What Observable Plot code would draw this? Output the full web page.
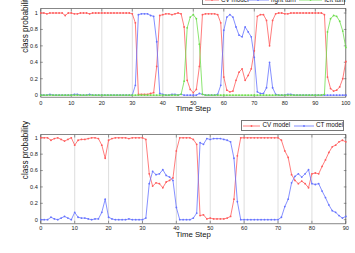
<!DOCTYPE html>
<html>
<head>
<meta charset="utf-8">
<script src="https://cdn.jsdelivr.net/npm/d3@7"></script>
<script src="https://cdn.jsdelivr.net/npm/@observablehq/plot@0.6"></script>
<style>
  html, body { margin: 0; padding: 0; background: white; }
  #wrap { position: relative; width: 355px; height: 253px; overflow: hidden; font-family: "Liberation Sans", Arial, sans-serif; }
  .chart { position: absolute; left: 0; overflow: visible; }
  .legend { position: absolute; background: white; border: 0.6px solid #777; box-sizing: border-box; }
  .lg-item { position: absolute; font-family: "Liberation Sans", Arial, sans-serif; font-size: 6.3px; color: #111; white-space: nowrap; line-height: 1; }
  .lg-swatch { position: absolute; }
</style>
</head>
<body>
<div id="wrap"></div>
<script>
// ---------- data: top chart ----------
const topSteps = d3.range(0, 101);
const topCV = [
  1.0,1.0,0.99,1.0,1.0,1.0,1.0,1.0,0.97,1.0,
  1.0,0.99,0.99,1.0,1.0,1.0,0.99,1.0,1.0,1.0,
  1.0,1.0,1.0,1.0,1.0,1.0,1.0,1.0,1.0,1.0,
  0.99,0.88,0.01,0.01,0.01,0.01,0.02,0.03,0.35,0.97,
  0.98,0.99,0.99,0.98,0.99,1.0,0.99,0.83,0.18,0.07,
  0.03,0.07,0.35,0.98,0.99,0.99,0.99,0.99,0.98,0.88,
  0.22,0.06,0.04,0.05,0.18,0.28,0.32,0.18,0.24,0.32,
  0.54,0.96,0.98,0.98,0.91,0.60,0.91,0.99,1.0,1.0,
  0.99,0.99,1.0,1.0,1.0,1.0,1.0,1.0,1.0,1.0,
  1.0,1.0,1.0,0.98,0.22,0.08,0.05,0.06,0.10,0.20,
  0.41
];
const topRight = [
  0,0,0,0.01,0,0,0,0,0,0,
  0,0.01,0.01,0,0,0,0.01,0,0,0,
  0,0,0,0,0,0,0,0,0,0,
  0,0.12,0.98,0.99,0.99,0.99,0.97,0.96,0.65,0.02,
  0.01,0,0,0.01,0.01,0,0.01,0,0,0,
  0,0,0.02,0.01,0,0,0,0,0.01,0.12,
  0.79,0.95,0.98,0.95,0.83,0.73,0.71,0.83,0.77,0.71,
  0.46,0.04,0.02,0.02,0.09,0.40,0.09,0.01,0,0,
  0,0.01,0.01,0,0,0,0,0,0,0,
  0,0,0,0,0,0,0,0,0,0,
  0
];
const topLeft = [
  0,0,0,0,0,0,0,0,0,0,
  0,0,0,0,0,0,0,0,0,0,
  0,0,0,0,0,0,0,0,0,0,
  0,0,0,0,0,0,0,0,0,0,
  0,0,0,0,0,0,0.01,0.17,0.82,0.95,
  0.98,0.93,0.62,0.01,0,0,0,0,0,0,
  0,0,0,0,0,0,0,0,0,0,
  0,0,0,0,0,0,0,0,0,0,
  0,0,0,0,0,0,0,0,0,0,
  0,0,0,0.01,0.77,0.93,0.97,0.96,0.90,0.78,
  0.58
];
const topSeries = ["CV model", "right turn", "left turn"];

// ---------- data: bottom chart ----------
const botSteps = d3.range(0, 91);
const botCV = [
  1.0,1.0,1.0,0.97,0.99,1.0,0.98,0.96,0.98,1.0,
  0.91,0.97,0.98,0.98,0.99,1.0,1.0,0.99,0.91,0.75,
  0.97,0.99,1.0,1.0,1.0,1.0,0.99,1.0,1.0,1.0,
  1.0,0.98,0.56,0.41,0.45,0.44,0.39,0.46,0.48,0.51,
  0.84,1.0,1.0,1.0,1.0,0.98,0.92,0.05,0.06,0.01,
  0.02,0.01,0.01,0.01,0.01,0.02,0.04,0.25,0.78,1.0,
  1.0,1.0,1.0,1.0,1.0,1.0,1.0,1.0,1.0,1.0,
  1.0,0.97,0.84,0.76,0.55,0.48,0.44,0.47,0.44,0.39,
  0.56,0.57,0.56,0.65,0.73,0.82,0.89,0.91,0.95,0.97,
  0.95
];
const botCT = [
  0,0,0,0.03,0.01,0,0.02,0.04,0.02,0,
  0.09,0.03,0.02,0.02,0.01,0,0.01,0.01,0.09,0.25,
  0.03,0.01,0,0,0,0,0.01,0,0,0,
  0,0.02,0.44,0.59,0.55,0.56,0.61,0.54,0.52,0.48,
  0.15,0,0,0,0,0.02,0.08,0.94,0.92,0.99,
  0.98,0.99,0.99,0.99,0.98,0.97,0.95,0.75,0.22,0,
  0,0,0,0,0,0,0,0,0,0,
  0,0.03,0.16,0.25,0.45,0.53,0.56,0.52,0.56,0.61,
  0.44,0.43,0.44,0.35,0.27,0.18,0.11,0.09,0.05,0.02,
  0.04
];
const botSeries = ["CV model", "CT model"];

// ---------- ticks ----------
const topXTicks = [0,10,20,30,40,50,60,70,80,90,100];
const botXTicks = [0,10,20,30,40,50,60,70,80,90];
const yTicks = [0,0.2,0.4,0.6,0.8,1];
const yTickLabels = ["0","0.2","0.4","0.6","0.8","1"];
const xLabel = "Time Step";
const yLabel = "class probability";

const colors = {"CV model": "#ff5c5c", "right turn": "#6673ff", "left turn": "#6ede4e", "CT model": "#6673ff"};
const FONT = "'Liberation Sans', Arial, sans-serif";

function long(steps, names, arrays) {
  const out = [];
  names.forEach((n, i) => steps.forEach((t, j) => out.push({t, p: arrays[i][j], s: n})));
  return out;
}

function makeChart(opts) {
  const {steps, names, arrays, xTicks, xDomain, yDomain, height, mt, mb, padX, labDy} = opts;
  const data = long(steps, names, arrays);
  const marks = [
    Plot.gridX(xTicks, {stroke: "#c8c8c8", strokeOpacity: 1, strokeWidth: 0.6}),
    Plot.frame({stroke: "#555", strokeWidth: 0.7}),
    Plot.axisX(xTicks, {anchor: "bottom", tickSize: 0, tickPadding: padX, label: null, fontSize: 5.6, tickFormat: d => String(d)}),
    Plot.axisY(yTicks, {anchor: "left", tickSize: 0, tickPadding: 3, label: null, fontSize: 5.6, tickFormat: d => yTickLabels[yTicks.indexOf(d)]}),
    Plot.axisX(xTicks, {anchor: "bottom", tickSize: -2.5, tickFormat: () => "", label: null, stroke: "#555", strokeWidth: 0.6}),
    Plot.axisX(xTicks, {anchor: "top", tickSize: -2.5, tickFormat: () => "", label: null, stroke: "#555", strokeWidth: 0.6}),
    Plot.axisY(yTicks, {anchor: "left", tickSize: -2.5, tickFormat: () => "", label: null, stroke: "#555", strokeWidth: 0.6}),
    Plot.axisY(yTicks, {anchor: "right", tickSize: -2.5, tickFormat: () => "", label: null, stroke: "#555", strokeWidth: 0.6})
  ];
  names.forEach(n => {
    const d = data.filter(r => r.s === n);
    marks.push(Plot.line(d, {x: "t", y: "p", stroke: colors[n], strokeWidth: 0.8}));
    marks.push(Plot.dot(d, {x: "t", y: "p", r: 0.9, fill: colors[n], stroke: "none"}));
  });
  marks.push(Plot.text([xLabel], {frameAnchor: "bottom", dy: labDy, fontSize: 7.8, fill: "#111"}));
  marks.push(Plot.text([yLabel], {frameAnchor: "left", dx: -15.5, rotate: -90, fontSize: 8.2, fill: "#111"}));
  return Plot.plot({
    width: 355, height, marginTop: mt, marginBottom: mb, marginLeft: 40.3, marginRight: 9.7,
    x: {domain: xDomain, axis: null},
    y: {domain: yDomain, axis: null},
    style: {fontFamily: FONT, background: "transparent", color: "#222", overflow: "visible"},
    marks
  });
}

const wrap = document.getElementById("wrap");

const topChart = makeChart({steps: topSteps, names: topSeries, arrays: [topCV, topRight, topLeft],
  xTicks: topXTicks, xDomain: [0, 100], yDomain: [-0.025, 1.055], height: 114, mt: 8, mb: 17.3, padX: 3.5, labDy: 14});
topChart.classList.add("chart");
topChart.style.top = "0px";
wrap.appendChild(topChart);

const botChart = makeChart({steps: botSteps, names: botSeries, arrays: [botCV, botCT],
  xTicks: botXTicks, xDomain: [0, 90], yDomain: [-0.05, 1.04], height: 138, mt: 19, mb: 29.7, padX: 2, labDy: 13.5});
botChart.classList.add("chart");
botChart.style.top = "115px";
wrap.appendChild(botChart);

// ---------- legends ----------
function legend(left, top, width, height, items) {
  const box = document.createElement("div");
  box.className = "legend";
  Object.assign(box.style, {left: left + "px", top: top + "px", width: width + "px", height: height + "px"});
  const mid = height / 2 - 0.6;
  items.forEach(it => {
    const sw = document.createElementNS("http://www.w3.org/2000/svg", "svg");
    sw.setAttribute("class", "lg-swatch");
    sw.setAttribute("width", it.len);
    sw.setAttribute("height", 4);
    sw.style.left = (it.x - left) + "px";
    sw.style.top = (mid - 2) + "px";
    sw.innerHTML = `<line x1="0" y1="2" x2="${it.len}" y2="2" stroke="${colors[it.name]}" stroke-width="0.8"/>` +
      `<circle cx="${it.len / 2}" cy="2" r="0.9" fill="${colors[it.name]}"/>`;
    box.appendChild(sw);
    const tx = document.createElement("div");
    tx.className = "lg-item";
    tx.textContent = it.name;
    tx.style.left = (it.tx - left) + "px";
    tx.style.top = (mid - 3.4) + "px";
    box.appendChild(tx);
  });
  wrap.appendChild(box);
}

legend(201.7, -5, 143.6, 10, [
  {name: "CV model", x: 204, len: 14, tx: 220},
  {name: "right turn", x: 246, len: 22, tx: 270},
  {name: "left turn", x: 298, len: 23, tx: 323.5}
]);
legend(240.7, 120, 103.6, 10.7, [
  {name: "CV model", x: 242.5, len: 17, tx: 261.5},
  {name: "CT model", x: 293, len: 20, tx: 315}
]);
</script>
</body>
</html>
